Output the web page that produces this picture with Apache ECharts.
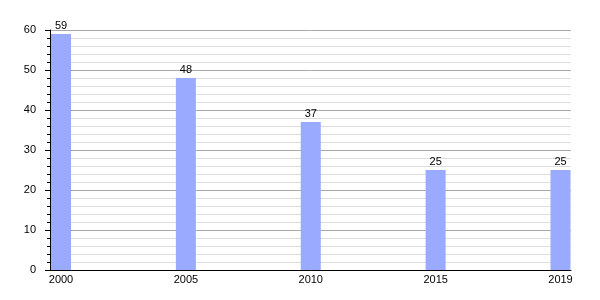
<!DOCTYPE html>
<html><head><meta charset="utf-8">
<script src="https://cdn.jsdelivr.net/npm/echarts@6/dist/echarts.min.js"></script>
<style>html,body{margin:0;padding:0;background:#fff}#c{width:600px;height:300px}</style>
</head><body><div id="c"></div>
<script>
const years = ['2000', '2005', '2010', '2015', '2019'];
const values = [59, 48, 37, 25, 25];
const yMin = 0, yMax = 60, yStep = 10;

const chart = echarts.init(document.getElementById('c'), null, {renderer: 'canvas'});
const font = 'Liberation Sans, Arial, sans-serif';
chart.setOption({
  animation: false,
  backgroundColor: '#fff',
  grid: [
    {left: 50, right: 29, top: 30, bottom: 30},
    {left: 61, right: 39.5, top: 30, bottom: 30}
  ],
  xAxis: [
    {gridIndex: 0, type: 'category', data: years, boundaryGap: false,
     axisLine: {show: true, lineStyle: {color: '#000', width: 1}},
     axisTick: {show: false}, axisLabel: {show: false}, splitLine: {show: false}},
    {gridIndex: 1, type: 'category', data: years, boundaryGap: false,
     axisLine: {show: false}, axisTick: {show: false},
     axisLabel: {show: true, color: '#000', fontSize: 11, fontFamily: font, margin: 4, interval: 0},
     splitLine: {show: false}}
  ],
  yAxis: [
    {gridIndex: 0, type: 'value', min: yMin, max: yMax, interval: yStep,
     axisLine: {show: true, lineStyle: {color: '#000', width: 1}},
     axisTick: {show: true, length: 5, lineStyle: {color: '#000'}},
     minorTick: {show: true, splitNumber: 5, length: 3, lineStyle: {color: '#000'}},
     axisLabel: {color: '#000', fontSize: 11, fontFamily: font, margin: 14},
     splitLine: {show: true, lineStyle: {color: '#a8a8a8', width: 1}},
     minorSplitLine: {show: true, lineStyle: {color: '#dddddd', width: 1}}},
    {gridIndex: 1, type: 'value', min: yMin, max: yMax, interval: yStep, show: false,
     splitLine: {show: false}}
  ],
  series: [{
    type: 'bar', xAxisIndex: 1, yAxisIndex: 1, data: values, barWidth: 20,
    itemStyle: {color: '#99aaff'},
    label: {show: true, position: 'top', distance: 3, color: '#000', fontSize: 11, fontFamily: font}
  }]
});
</script></body></html>
